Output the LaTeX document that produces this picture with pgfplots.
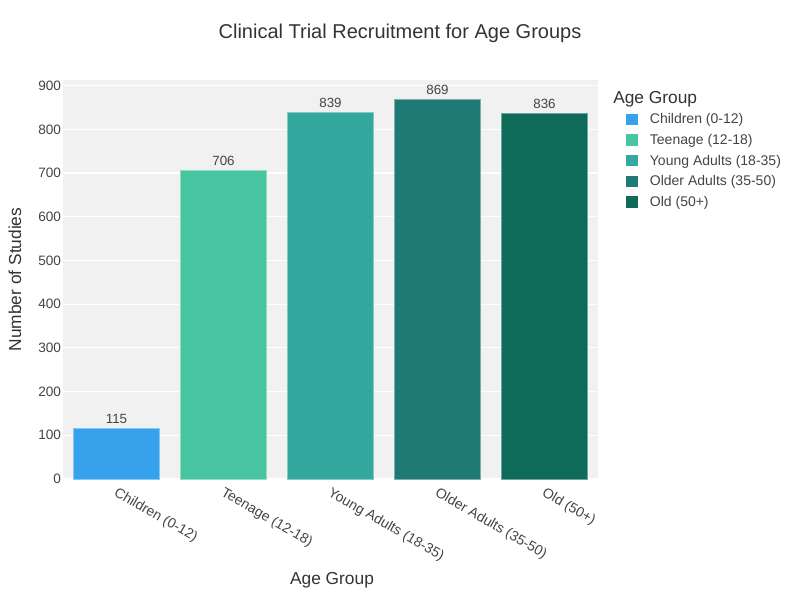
\documentclass[border=0pt]{standalone}
\usepackage{pgfplots}
\pgfplotsset{compat=1.18}
\usepackage{fontspec}
\setmainfont{Liberation Sans}
\definecolor{cA}{RGB}{54,162,235}
\definecolor{cB}{RGB}{70,197,160}
\definecolor{cC}{RGB}{50,168,158}
\definecolor{cD}{RGB}{31,122,118}
\definecolor{cE}{RGB}{14,107,90}
\definecolor{txt}{RGB}{68,68,68}
\definecolor{bg}{RGB}{241,241,241}
\begin{document}
\begin{tikzpicture}
\useasboundingbox (0,0) rectangle (600pt,450pt);
\begin{axis}[
  at={(47.25pt,90.75pt)}, anchor=south west,
  width=401.25pt, height=299.25pt, scale only axis,
  xmin=-0.5, xmax=4.5, ymin=0, ymax=913,
  axis background/.style={fill=bg},
  axis line style={draw=none},
  ytick={0,100,...,900},
  ymajorgrids, grid style={white, line width=0.9pt},
  major tick length=0pt,
  xtick={0,1,2,3,4},
  xticklabels={Children (0-12),Teenage (12-18),Young Adults (18-35),Older Adults (35-50),Old (50+)},
  x tick label style={rotate=-30, anchor=north west, font=\fontsize{10.5}{12}\selectfont, text=txt, inner sep=1pt, xshift=3pt, yshift=-3pt},
  y tick label style={font=\fontsize{10.2}{12}\selectfont, text=txt, xshift=2pt},
  /pgf/number format/assume math mode=true,
  ybar, bar width=64.5pt, bar shift=0pt,
  nodes near coords,
  every node near coord/.append style={font=\fontsize{10}{12}\selectfont, text=txt, yshift=0pt},
  legend style={at={(1,1)}, anchor=north west, xshift=14pt, yshift=-21pt, draw=none, fill=none, font=\fontsize{10.5}{12}\selectfont, text=txt, row sep=2.4pt, legend cell align=left},
  legend image code/.code={\path[draw=none,fill=none] (0pt,0pt) -- (19.75pt,0pt); \fill[#1,draw=none] (4pt,-4pt) rectangle (12.5pt,4.5pt);},
  clip=false,
]
\addplot[fill=cA, draw=cA!60!white, line width=0.6pt] coordinates {(0,115)};
\addplot[fill=cB, draw=cB!60!white, line width=0.6pt] coordinates {(1,706)};
\addplot[fill=cC, draw=cC!60!white, line width=0.6pt] coordinates {(2,839)};
\addplot[fill=cD, draw=cD!60!white, line width=0.6pt] coordinates {(3,869)};
\addplot[fill=cE, draw=cE!60!white, line width=0.6pt] coordinates {(4,836)};
\legend{Children (0-12),Teenage (12-18),Young Adults (18-35),Older Adults (35-50),Old (50+)}
\end{axis}
\node[font=\fontsize{15}{18}\selectfont, text=black!80] at (300pt,425.25pt) {Clinical Trial Recruitment for Age Groups};
\node[font=\fontsize{13}{15}\selectfont, text=black!80] at (249pt,15pt) {Age Group};
\node[font=\fontsize{13}{15}\selectfont, text=black!80, rotate=90] at (11.25pt,240.4pt) {Number of Studies};
\node[font=\fontsize{13}{15}\selectfont, text=black!80, anchor=west, inner sep=0pt] at (459.75pt,375.75pt) {Age Group};
\end{tikzpicture}
\end{document}
